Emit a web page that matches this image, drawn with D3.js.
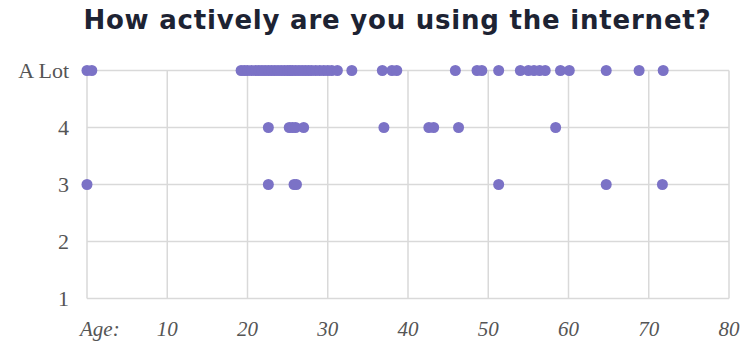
<!DOCTYPE html>
<html>
<head>
<meta charset="utf-8">
<script src="https://cdn.jsdelivr.net/npm/d3@7"></script>
<style>
  body { margin: 0; background: #fff; }
</style>
</head>
<body>
<div id="chart"></div>
<script>
// chart data
const title = "How actively are you using the internet?";
const yLevels = [1, 2, 3, 4, 5];
const yTickLabels = ["1", "2", "3", "4", "A Lot"];
const xTicks = [0, 10, 20, 30, 40, 50, 60, 70, 80];
const xTickLabels = ["Age:", "10", "20", "30", "40", "50", "60", "70", "80"];

// ages of the answers, one array per level
const agesALot = [0, 0.6, 19.2, 19.6, 20, 20.5, 21, 21.4, 21.8, 22.2, 22.6, 23, 23.4, 23.8,
    24.2, 24.6, 25, 25.3, 25.6, 26, 26.4, 26.8, 27.2, 27.6, 28, 28.5, 29, 29.5, 30, 30.5,
    31.2, 33, 36.8, 38, 38.6, 45.9, 48.6, 49.2, 51.3, 54, 55, 55.7, 56.4, 57.1, 59, 60.1,
    64.7, 68.8, 71.8];
const ages4 = [22.6, 25.2, 25.6, 26, 27, 37, 42.6, 43.2, 46.3, 58.4];
const ages3 = [0, 22.6, 25.8, 26.1, 51.3, 64.7, 71.7];
const ages2 = [];
const ages1 = [];

const points = [
    ...agesALot.map(a => ({age: a, level: 5})),
    ...ages4.map(a => ({age: a, level: 4})),
    ...ages3.map(a => ({age: a, level: 3})),
    ...ages2.map(a => ({age: a, level: 2})),
    ...ages1.map(a => ({age: a, level: 1}))
];

const width = 743, height = 345;
const margin = {top: 70.5, right: 14, bottom: 46.5, left: 87};

const svg = d3.select("#chart")
    .append("svg")
    .attr("width", width)
    .attr("height", height);

const x = d3.scaleLinear()
    .domain([0, 80])
    .range([margin.left, width - margin.right]);

const y = d3.scaleLinear()
    .domain([1, 5])
    .range([height - margin.bottom, margin.top]);

// title, stretched a bit with letter spacing to the width of the original
const titleText = svg.append("text")
    .attr("x", 397)
    .attr("y", 28.5)
    .attr("text-anchor", "middle")
    .style("font-family", "'DejaVu Sans', sans-serif")
    .style("font-weight", 700)
    .style("font-size", "26px")
    .style("fill", "#1d2333")
    .text(title);
const tw = titleText.node().getComputedTextLength();
const ls = Math.max(0, (628 - tw) / title.length);
titleText.style("letter-spacing", ls + "px")
    .attr("x", 397 + ls / 2);

// grid
svg.append("g")
    .selectAll("line")
    .data(xTicks)
    .join("line")
    .attr("x1", d => x(d))
    .attr("x2", d => x(d))
    .attr("y1", y(5))
    .attr("y2", y(1))
    .attr("stroke", "#d9d9d9")
    .attr("stroke-width", 1.5);

svg.append("g")
    .selectAll("line")
    .data(yLevels)
    .join("line")
    .attr("x1", x(0))
    .attr("x2", x(80))
    .attr("y1", d => y(d))
    .attr("y2", d => y(d))
    .attr("stroke", "#d9d9d9")
    .attr("stroke-width", 1.5);

// y labels
svg.append("g")
    .selectAll("text")
    .data(yLevels)
    .join("text")
    .attr("x", 69)
    .attr("y", d => y(d) + 7)
    .attr("text-anchor", "end")
    .style("font-family", "'Liberation Serif', serif")
    .style("font-size", "22px")
    .style("fill", "#555")
    .text((d, i) => yTickLabels[i]);

// x labels
svg.append("g")
    .selectAll("text")
    .data(xTicks)
    .join("text")
    .attr("x", (d, i) => i === 0 ? x(d) - 7 : x(d))
    .attr("y", 336)
    .attr("text-anchor", (d, i) => i === 0 ? "start" : "middle")
    .style("font-family", "'Liberation Serif', serif")
    .style("font-style", "italic")
    .style("font-size", "21px")
    .style("fill", "#555")
    .text((d, i) => xTickLabels[i]);

// dots
svg.append("g")
    .selectAll("circle")
    .data(points)
    .join("circle")
    .attr("cx", d => x(d.age))
    .attr("cy", d => y(d.level))
    .attr("r", 5.5)
    .attr("fill", "#7b72c6");
</script>
</body>
</html>
